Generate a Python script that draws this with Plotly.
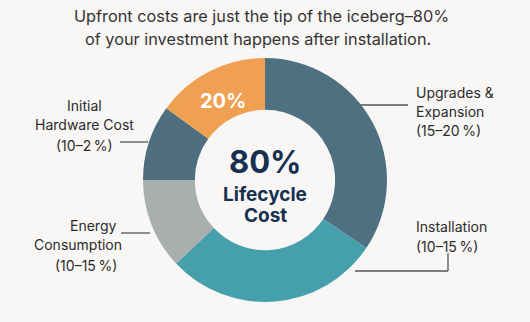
import plotly.graph_objects as go

W, H = 530, 322

segments = ["Upgrades & Expansion", "Installation", "Energy Consumption", "Initial Hardware Cost", "Upfront"]
values = [34.4, 28.6, 12.0, 10.0, 15.0]
colors = ["#4F7080", "#45A0AC", "#A9AFAD", "#4F6F80", "#EFA052"]
slice_text = ["", "", "", "", "20%"]

title_lines = ["Upfront costs are just the tip of the iceberg\u201380%",
               "of your investment happens after installation."]

BG = "#F8F7F5"
TXT = "#2B2B2B"
NAVY = "#17304F"
FONT = "Inter"

cx, cy, R = 265, 180, 122

def px(x):
    return x / W

def py(y):
    return 1 - y / H

fig = go.Figure()
fig.add_trace(go.Pie(
    labels=segments, values=values, sort=False, direction="clockwise", rotation=0,
    hole=0.575, marker=dict(colors=colors, line=dict(width=0)),
    text=slice_text, textinfo="none", hoverinfo="label+value",
    domain=dict(x=[px(cx - R), px(cx + R)], y=[py(cy + R), py(cy - R)]),
    showlegend=False,
))

ann = []
def add(text, x, y, size=14, color=TXT, xanchor="center", bold=False):
    if bold:
        text = "<b>" + text + "</b>"
    ann.append(dict(text=text, x=px(x), y=py(y), xref="paper", yref="paper",
                    showarrow=False, xanchor=xanchor, yanchor="middle",
                    font=dict(size=size, color=color, family=FONT)))

add(title_lines[0], 261, 16, size=16.3, color="#333333")
add(title_lines[1], 258, 39, size=16.3, color="#333333")

add("80%", 265, 162, size=31, color=NAVY, bold=True)
add("Lifecycle", 265, 194, size=19, color=NAVY, bold=True)
add("Cost", 265, 215, size=19, color=NAVY, bold=True)
add(slice_text[4], 223, 101, size=20, color="white", bold=True)

# right labels
add("Upgrades &amp;", 414, 92, xanchor="left")
add("Expansion", 414, 111, xanchor="left")
add("(15\u201320\u2009%)", 414, 131, xanchor="left")
add("Installation", 414, 226, xanchor="left")
add("(10\u201315\u2009%)", 414, 246, xanchor="left")

# left labels
add("Initial", 84, 105)
add("Hardware Cost", 84, 124)
add("(10\u20132\u2009%)", 84, 145)
add("Energy", 93, 225)
add("Consumption", 78, 244)
add("(10\u201315\u2009%)", 86, 265)

fig.update_layout(annotations=ann)

line = dict(color="#555555", width=1.3)
def seg(x0, y0, x1, y1):
    fig.add_shape(type="line", xref="paper", yref="paper",
                  x0=px(x0), y0=py(y0), x1=px(x1), y1=py(y1), line=line, layer="below")

seg(360, 105, 408, 105)
seg(355, 271, 448, 271)
seg(448, 271, 448, 253)
seg(120, 142, 148, 142)
seg(121, 233, 150, 233)

fig.update_layout(width=W, height=H, margin=dict(l=0, r=0, t=0, b=0),
                  paper_bgcolor=BG, plot_bgcolor=BG)

fig.write_html("out.html")
